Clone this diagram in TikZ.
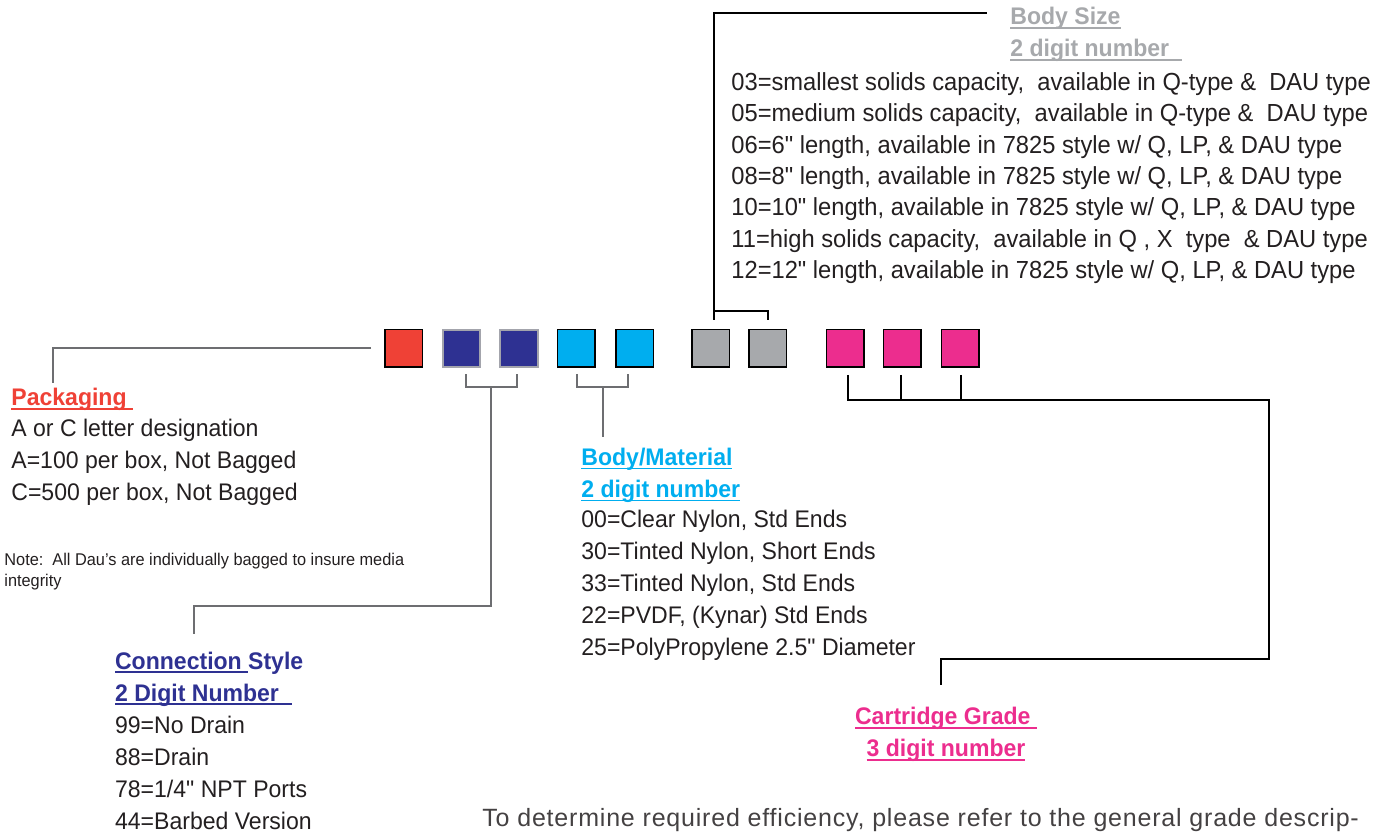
\documentclass[tikz,border=0pt]{standalone}
\usepackage{fontspec}
\newfontfamily\condfont{Liberation Sans}[FakeStretch=0.96]
\newfontfamily\dinfont{Liberation Sans}[LetterSpace=3.2]
\definecolor{pkRed}{HTML}{EF4136}
\definecolor{csBlue}{HTML}{2E3192}
\definecolor{csEdge}{HTML}{A3A4AC}
\definecolor{bmCyan}{HTML}{00AEEF}
\definecolor{bsGray}{HTML}{A7A9AC}
\definecolor{cgPink}{HTML}{EC2D8E}
\definecolor{wireGray}{HTML}{6D6E71}
\definecolor{ink}{HTML}{231F20}
\newcommand{\lines}[2][l]{\begin{tabular}[t]{@{}#1@{}}#2\end{tabular}}
% underline drawn close to the baseline
\newcommand{\ulbar}[1]{\setbox0\hbox{#1}\rlap{\rule[-1.9pt]{\wd0}{0.7pt}}\box0}
\tikzset{
  cell/.style={draw=black, line width=0.75pt, minimum size=18.75pt, inner sep=0pt},
  wire/.style={draw=wireGray, line width=1pt},
  thinwire/.style={draw=black, line width=0.6pt},
  head/.style={font=\condfont\bfseries\fontsize{12}{16}\selectfont, anchor=base west, inner sep=0pt},
  body/.style={font=\condfont\fontsize{12}{16}\selectfont, anchor=base west, inner sep=0pt, text=ink},
  note/.style={font=\condfont\fontsize{8.5}{10.5}\selectfont, anchor=base west, inner sep=0pt, text=ink},
}
\begin{document}
\begin{tikzpicture}[x=0.5pt,y=-0.5pt]
\useasboundingbox (0,0) rectangle (1387,833);
% code boxes
\node[cell, fill=pkRed] (pk) at (403.5,348.5) {};
\node[cell, fill=csBlue, draw=csEdge, line width=1pt] (cs1) at (461.5,348.5) {};
\node[cell, fill=csBlue, draw=csEdge, line width=1pt] (cs2) at (519,348.5) {};
\node[cell, fill=bmCyan] (bm1) at (576,348.5) {};
\node[cell, fill=bmCyan] (bm2) at (634.5,348.5) {};
\node[cell, fill=bsGray] (bs1) at (710.5,348.5) {};
\node[cell, fill=bsGray] (bs2) at (767.5,348.5) {};
\node[cell, fill=cgPink] (cg1) at (845,348.5) {};
\node[cell, fill=cgPink] (cg2) at (902,348.5) {};
\node[cell, fill=cgPink] (cg3) at (960,348.5) {};

% Packaging
\coordinate (pkEnd) at (52.7,383);
\draw[wire] ([xshift=-6.5pt]pk.west) -| (pkEnd);
\node[head, text=pkRed] (pkHead) at (11,406) {\ulbar{Packaging\hspace{3pt}}};
\node[body] (pkList) at (11,437) {\lines{A or C letter designation\\A=100 per box, Not Bagged\\C=500 per box, Not Bagged}};
\node[note] (pkNote) at (4,566) {\lines{Note:\ \ All Dau’s are individually bagged to insure media\\integrity}};

% Connection style
\coordinate (csMid) at (491,387);
\coordinate (csEnd) at (194,634);
\draw[wire] ([xshift=2pt,yshift=-3pt]cs1.south) -- ++(0,13) -| ([xshift=-1.25pt,yshift=-3pt]cs2.south);
\draw[wire] (csMid) -- ++(0,219) -| (csEnd);
\node[head, text=csBlue] (csHead) at (114.7,669) {\lines{\ulbar{Connection }Style\\\ulbar{2 Digit Number\ \ }}};
\node[body] (csList) at (114.7,733.3) {\lines{99=No Drain\\88=Drain\\78=1/4" NPT Ports\\44=Barbed Version}};

% Body / material
\coordinate (bmEnd) at (602.7,436.7);
\draw[wire] ([xshift=0.5pt,yshift=-3pt]bm1.south) -- ++(0,13) -| ([xshift=-3.25pt,yshift=-3pt]bm2.south);
\draw[wire] (bmEnd |- 0,387) -- (bmEnd);
\node[head, text=bmCyan] (bmHead) at (581,465.7) {\lines{\ulbar{Body/Material}\\\ulbar{2 digit number}}};
\node[body] (bmList) at (581,528) {\lines{00=Clear Nylon, Std Ends\\30=Tinted Nylon, Short Ends\\33=Tinted Nylon, Std Ends\\22=PVDF, (Kynar) Std Ends\\25=PolyPropylene 2.5" Diameter}};

% Body size
\coordinate (bsEnd) at (987,13);
\draw[thinwire] ([xshift=1.75pt,yshift=4.5pt]bs1.north) |- (bsEnd);
\draw[thinwire] ([xshift=1.75pt,yshift=9pt]bs1.north) -| ([xshift=0.25pt,yshift=4.5pt]bs2.north);
\node[head, text=bsGray] (bsHead) at (1010,25) {\lines{\ulbar{Body Size}\\\ulbar{2 digit number\ \ }}};
\node[body, font=\condfont\fontsize{12.35}{15.65}\selectfont] (bsList) at (731,90.7) {\lines{03=smallest solids capacity,\ \ available in Q-type \&\ \ DAU type\\
05=medium solids capacity,\ \ available in Q-type \&\ \ DAU type\\
06=6" length, available in 7825 style w/ Q, LP, \& DAU type\\
08=8" length, available in 7825 style w/ Q, LP, \& DAU type\\
10=10" length, available in 7825 style w/ Q, LP, \& DAU type\\
11=high solids capacity,\ \ available in Q , X\ \ type\ \ \& DAU type\\
12=12" length, available in 7825 style w/ Q, LP, \& DAU type}};

% Cartridge grade
\coordinate (cgCorner) at (1269,400);
\coordinate (cgEnd) at (941,685);
\draw[thinwire] ([xshift=1.5pt,yshift=-3.5pt]cg1.south) |- (cgCorner) -- ++(0,259) -| (cgEnd);
\draw[thinwire] ([xshift=-0.5pt,yshift=-3.5pt]cg2.south) -- ++(0,25);
\draw[thinwire] ([xshift=0.5pt,yshift=-3.5pt]cg3.south) -- ++(0,25);
\node[head, text=cgPink, anchor=base] (cgHead) at (946,725) {\lines[c]{\ulbar{Cartridge Grade }\\\ulbar{3 digit number}}};

\node[font=\dinfont\fontsize{12.5}{14}\selectfont, text=ink!85, anchor=base west, inner sep=0pt] (gradeNote) at (482,826) {To determine required efficiency, please refer to the general grade descrip-};
\end{tikzpicture}
\end{document}
